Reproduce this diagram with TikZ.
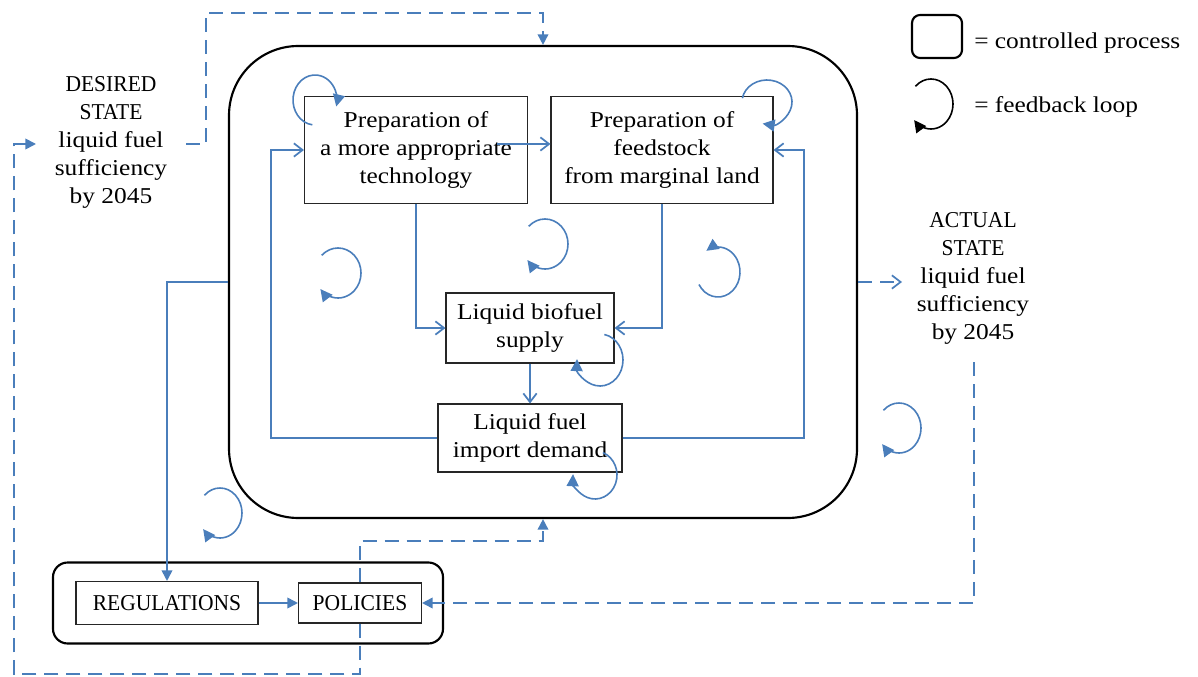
\documentclass[tikz,border=0pt]{standalone}
\usepackage{fontspec}
\setmainfont{Liberation Serif}[FakeStretch=1.12]
\newfontfamily\capsf{Liberation Serif}[FakeStretch=0.95]
\usetikzlibrary{arrows.meta}
\definecolor{linkblue}{RGB}{74,126,187}
\newcommand\fbloopat[7][linkblue]{%
  \draw[fbloop,#1] (#2,#3) ++(#6:#4 and #5)
    arc[start angle=#6,end angle=#7,x radius=#4,y radius=#5];}
\begin{document}
\begin{tikzpicture}[x=0.75pt,y=-0.75pt,
  every node/.style={font=\fontsize{17pt}{21pt}\selectfont},
  procbox/.style={draw=black!85,line width=0.8pt,fill=white,align=center,inner sep=0pt},
  ctrlbox/.style={draw=black,line width=1.6pt,inner sep=0pt},
  label/.style={align=center,inner sep=0pt},
  link/.style={draw=linkblue,line width=1.3pt},
  dlink/.style={link,dash pattern=on 10.5pt off 6pt},
  openhead/.style={-{Straight Barb[length=6.5pt,width=10pt]}},
  fillhead/.style={-{Triangle[length=8pt,width=8pt]}},
  fbloop/.style={line width=1.2pt,-{Triangle[length=9pt,width=9pt]}},
]
\useasboundingbox (0,0) rectangle (1198,677);

% controlled processes
\node[ctrlbox,rounded corners=52pt,minimum width=471pt,minimum height=354pt] (big) at (543,282) {};
\node[ctrlbox,rounded corners=11pt,minimum width=292.5pt,minimum height=60.75pt] (lower) at (248,603) {};

% process boxes
\node[procbox,minimum width=167.25pt,minimum height=80.25pt] (b1) at (416,150)
  {Preparation of\\a more appropriate\\technology};
\node[procbox,minimum width=166.5pt,minimum height=80.25pt] (b2) at (662,150)
  {Preparation of\\feedstock\\from marginal land};
\node[procbox,minimum width=126pt,minimum height=52.5pt] (b3) at (530,328)
  {Liquid biofuel\\supply};
\node[procbox,minimum width=138pt,minimum height=51pt] (b4) at (530,438)
  {Liquid fuel\\import demand};
\node[procbox,minimum width=136.5pt,minimum height=32.25pt] (regs) at (167,603)
  {\capsf REGULATIONS};
\node[procbox,minimum width=92.25pt,minimum height=30pt] (pol) at (360,603)
  {\capsf POLICIES};

% states
\node[label] (desired) at (111,142.5)
  {{\capsf DESIRED}\\{\capsf STATE}\\liquid fuel\\sufficiency\\by 2045};
\node[label] (actual) at (973,278)
  {{\capsf ACTUAL}\\{\capsf STATE}\\liquid fuel\\sufficiency\\by 2045};

% legend
\node[ctrlbox,rounded corners=6pt,minimum width=37.5pt,minimum height=32.25pt] (lgbox) at (937,36.5) {};
\node[label,anchor=west] (lgproc) at (974,43) {= controlled process};
\node[label,anchor=west] (lgloop) at (974,107) {= feedback loop};

% solid flows inside the process
\coordinate (tx) at (497,144);
\draw[link,openhead] (tx) -- (tx -| b2.west);
\draw[link,openhead] (b1.south) |- (b3.west);
\draw[link,openhead] (b2.south) |- (b3.east);
\draw[link,openhead] (b3.south) -- (b4.north);
\coordinate (lx) at (271,438);
\coordinate (rx) at (804,438);
\draw[link,openhead] (b4.west) -- (lx) |- (b1.west);
\draw[link,openhead] (b4.east) -- (rx) |- (b2.east);
\draw[link,fillhead] (big.west) -| (regs.north);
\draw[link,fillhead] (regs.east) -- (pol.west);

% dashed control paths
\coordinate (ds) at (186,144);
\coordinate (dtop) at (206,13);
\draw[dlink,fillhead] (ds) -| (dtop) -| (big.north);
\coordinate (pm) at (360,541);
\draw[dlink,fillhead] (pol.north) -- (pm) -| (big.south);
\coordinate (pb) at (14,674);
\coordinate (din) at (36,144);
\draw[dlink,fillhead] (pol.south) |- (pb) |- (din);
\coordinate (ain) at (902,282);
\draw[dlink,openhead] (big.east) -- (ain);
\coordinate (as) at (974,362);
\draw[dlink,fillhead] (as) |- (pol.east);

% feedback loops
\fbloopat{315}{100}{22}{25}{97}{375}
\fbloopat{767}{102}{25}{22}{190}{460}
\fbloopat{338}{273}{23}{25}{225}{500}
\fbloopat{545}{244}{23}{25}{225}{500}
\fbloopat{718}{272}{22}{25}{150}{-122}
\fbloopat{600}{360}{23}{26}{-79}{182}
\fbloopat{595}{475}{22}{24}{-69}{182}
\fbloopat{899}{428}{22}{25}{225}{500}
\fbloopat{220}{513}{22}{25}{225}{500}
\fbloopat[black]{931}{104}{22}{25}{225}{500}
\end{tikzpicture}
\end{document}
